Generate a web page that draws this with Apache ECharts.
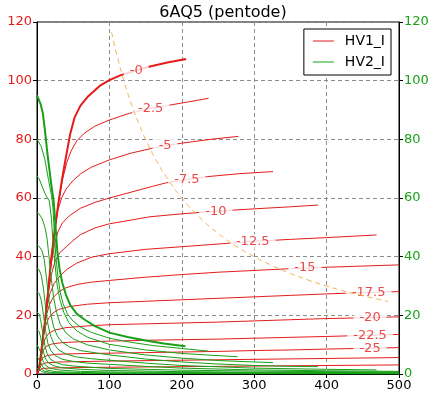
<!DOCTYPE html>
<html>
<head>
<meta charset="utf-8">
<script src="https://cdn.jsdelivr.net/npm/echarts@6.0.0/dist/echarts.min.js"></script>
<style>
  html, body { margin: 0; padding: 0; background: #fff; }
  #chart { width: 441px; height: 396px; }
</style>
</head>
<body>
<div id="chart"></div>
<script>
// plate current (HV1_I), [Va, mA], one array per grid voltage
const ia_0    = [[0,0],[3,2],[7,10],[12,20],[16,30],[20,40],[25,50],[30,59],[35,67],[40,74],[46,82],[52,87.5],[60,91.5],[70,94.5],[87,98.3],[100,100.2],[115,101.8],[137,103.5],[156,104.8],[180,106.2],[206,107.4]];
const ia_2_5  = [[0,0],[3,2],[7,10],[12,20],[16,30],[20,40],[25,50],[30,59],[35,66],[41,72],[47,76],[55,79.5],[65,82],[80,84.5],[100,86.6],[128,88.9],[157,90.5],[184,91.7],[210,92.8],[237,94]];
const ia_5    = [[0,0],[3,2],[7,10],[12,20],[16,30],[20,40],[25,50],[29,56],[34,60],[40,63],[50,66],[60,68.2],[75,70.5],[100,73],[130,75.3],[160,77],[177,77.8],[200,78.7],[240,80],[278,81]];
const ia_7_5  = [[0,0],[3,2],[7,10],[12,20],[16,30],[20,38],[24,44],[29,48.5],[35,51.5],[45,54],[60,56.5],[80,58.5],[100,60],[130,62],[160,64],[179,65.2],[207,66.3],[236,67.3],[280,68.3],[326,69]];
const ia_10   = [[0,0],[3,2],[7,10],[12,20],[16,28],[20,34],[25,38.5],[32,41.5],[41,43.5],[50,45.5],[60,47.5],[80,49.8],[100,51.2],[156,53.6],[200,54.6],[247,55.5],[300,56.3],[350,57],[388,57.6]];
const ia_12_5 = [[0,0],[3,2],[7,10],[11,18],[14,23],[18,27.5],[24,31],[32,33.5],[42,35.8],[55,37.8],[75,39.8],[100,41],[150,42.5],[200,43.4],[250,44.3],[298,45.2],[350,45.9],[400,46.5],[469,47.4]];
const ia_15   = [[0,0],[3,2],[7,10],[10,16],[13,20],[17,23.5],[22,26],[30,28],[40,29.4],[55,30.5],[75,31.3],[100,31.9],[150,33],[200,33.9],[250,34.7],[300,35.3],[350,35.9],[400,36.4],[450,36.8],[500,37.2]];
const ia_17_5 = [[0,0],[3,2],[6,7.5],[9,13],[12,16.5],[16,19],[22,20.8],[30,22],[45,23],[70,23.8],[100,24.3],[150,24.8],[200,25.3],[250,25.8],[300,26.3],[350,26.8],[400,27.3],[458,27.8],[500,28.1]];
const ia_20   = [[0,0],[3,2],[6,7],[9,10.5],[12,12.5],[17,14],[25,15],[40,15.8],[70,16.4],[100,16.8],[150,17.1],[200,17.4],[250,17.7],[300,18.1],[350,18.5],[400,18.9],[460,19.2],[500,19.5]];
const ia_22_5 = [[0,0],[3,2],[5,5],[8,7.8],[12,9.3],[20,10.2],[35,10.7],[60,11],[100,11.2],[150,11.5],[200,11.7],[250,11.9],[300,12.2],[350,12.5],[400,12.8],[460,13.2],[500,13.5]];
const ia_25   = [[0,0],[3,2],[5,4.2],[8,5.6],[14,6.3],[25,6.7],[50,6.9],[100,7.1],[150,7.3],[200,7.5],[250,7.7],[300,8],[350,8.2],[400,8.5],[460,8.8],[500,9]];
const ia_27_5 = [[0,0],[3,1.8],[6,3.2],[12,3.8],[30,4.1],[100,4.4],[200,4.7],[300,5],[400,5.3],[500,5.6]];
const ia_30   = [[0,0],[3,1.2],[8,1.9],[25,2.1],[100,2.3],[200,2.5],[300,2.7],[400,2.9],[500,3.1]];

// screen current (HV2_I)
const ig_0    = [[0,95],[2,94.5],[5,92],[8,89],[11,83],[14,76],[17,70],[20,64],[23,59],[26,49],[28,42],[31,36],[35,31],[40,27],[46,23.5],[55,20.5],[66,18.5],[80,16.3],[100,14.1],[125,12.6],[150,11.4],[175,10.4],[205,9.5]];
const ig_2_5  = [[0,80],[2,79.8],[6,77.5],[11,73],[16,66],[20,61],[22,57],[24,48],[26,40],[29,33],[32,28],[36,24],[42,20.5],[50,18],[60,16],[75,14.2],[100,12.2],[130,10.8],[160,9.7],[200,8.7],[237,7.8]];
const ig_5    = [[0,67.5],[3,66.5],[7,64],[12,61],[17,59],[20,53],[22,45],[25,37],[28,30],[32,25],[37,21],[44,17.5],[55,14.7],[70,12.5],[100,10.1],[150,8.2],[200,7],[240,6.4],[277,5.9]];
const ig_7_5  = [[0,55],[3,54.5],[7,53],[11,50],[14,46],[17,39],[20,32],[23,26],[27,21],[32,17],[40,14],[50,12],[70,9.9],[100,8.2],[150,6.5],[200,5.4],[250,4.6],[300,4.1],[326,3.9]];
const ig_10   = [[0,44],[3,43.5],[7,42],[10,39],[13,33],[16,26],[19,20.5],[23,16],[28,13],[35,10.8],[45,9.2],[60,8],[100,6.5],[150,5.1],[200,4.1],[250,3.4],[300,2.9],[350,2.6],[388,2.5]];
const ig_12_5 = [[0,36],[3,35.5],[6,33.5],[9,29],[12,22.5],[15,17],[19,12.8],[24,10],[30,8.2],[40,6.8],[55,5.8],[75,5.2],[100,4.7],[150,3.7],[200,2.9],[300,2],[400,1.6],[469,1.4]];
const ig_15   = [[0,28],[3,27.5],[6,25],[9,20],[12,14.5],[15,10.5],[19,8],[25,6.3],[35,5],[50,4.3],[70,3.7],[100,3.3],[150,2.6],[200,2],[300,1.4],[400,1.1],[500,0.9]];
const ig_17_5 = [[0,21],[3,20.5],[5,18.5],[8,14],[11,9.5],[14,7],[18,5.2],[25,4],[35,3.2],[50,2.7],[100,1.9],[200,1.3],[300,1],[400,0.8],[500,0.7]];
const ig_20   = [[0,15],[3,14.5],[5,12.5],[8,8.5],[11,5.6],[15,4],[22,2.9],[35,2.1],[60,1.6],[100,1.2],[200,0.8],[300,0.6],[500,0.45]];
const ig_22_5 = [[0,10],[2,9.8],[5,7.5],[8,4.6],[12,2.9],[18,2],[30,1.4],[60,0.9],[100,0.7],[300,0.4],[500,0.3]];
const ig_25   = [[0,6],[2,5.8],[5,4],[8,2.4],[13,1.4],[25,0.8],[60,0.5],[100,0.4],[500,0.2]];
const ig_27_5 = [[0,3.5],[3,3],[6,1.8],[10,1],[20,0.5],[60,0.25],[500,0.1]];
const ig_30   = [[0,2],[3,1.6],[6,0.9],[12,0.4],[40,0.15],[500,0.05]];

// 12W plate dissipation limit
const pdX = [103,110,120,130,140,150,165,180,200,225,250,275,300,325,350,375,400,425,450,485];
const pdY = [116.5,109.1,100,92.3,85.7,80,72.7,66.7,60,53.3,48,43.6,40,36.9,34.3,32,30,28.2,26.7,24.7];

// curve labels (grid volts) and where they sit along Va
const labelText = ['-0','-2.5','-5','-7.5','-10','-12.5','-15','-17.5','-20','-22.5','-25'];
const labelX    = [137, 157, 177, 207, 247, 298, 370, 458, 460, 460, 460];

const redCurves = [ia_0, ia_2_5, ia_5, ia_7_5, ia_10, ia_12_5, ia_15, ia_17_5, ia_20, ia_22_5, ia_25, ia_27_5, ia_30];
const greenCurves = [ig_0, ig_2_5, ig_5, ig_7_5, ig_10, ig_12_5, ig_15, ig_17_5, ig_20, ig_22_5, ig_25, ig_27_5, ig_30];

const RED = '#e41b1b';
const GREEN = '#17a017';
const FONT = 'DejaVu Sans';

// y on a curve at given x (only to put the label on the line)
function yAt(curve, x) {
  for (let i = 1; i < curve.length; i++) {
    if (curve[i][0] >= x) {
      const [x0, y0] = curve[i - 1], [x1, y1] = curve[i];
      return y0 + (y1 - y0) * (x - x0) / (x1 - x0);
    }
  }
  return curve[curve.length - 1][1];
}

const chart = echarts.init(document.getElementById('chart'));

const series = [];
redCurves.forEach((d, i) => {
  series.push({
    name: 'HV1_I', type: 'line', data: d, symbol: 'none', silent: true, z: 2,
    lineStyle: { color: RED, width: i === 0 ? 2 : 1 }, itemStyle: { color: RED }
  });
});
greenCurves.forEach((d, i) => {
  series.push({
    name: 'HV2_I', type: 'line', yAxisIndex: 1, data: d, symbol: 'none', silent: true, z: 2,
    lineStyle: { color: GREEN, width: i === 0 ? 2 : 1 }, itemStyle: { color: GREEN }
  });
});

// labels with white box, drawn bottom curve first so upper boxes sit on top
const labelData = labelText.map((t, i) => [labelX[i], yAt(redCurves[i], labelX[i]), t]).reverse();
series.push({
  name: 'labels', type: 'scatter', data: labelData, symbolSize: 0, silent: true, z: 3,
  label: {
    show: true, position: 'inside', formatter: p => p.value[2],
    color: RED, fontSize: 13, fontFamily: FONT, backgroundColor: '#fff', padding: [1, 6]
  }
});

series.push({
  name: 'pd', type: 'line', data: pdX.map((x, i) => [x, pdY[i]]), symbol: 'none', silent: true, z: 4,
  smooth: true, lineStyle: { color: '#f5b04f', width: 1, type: [5, 4] }
});

const axisY = (pos, color, split) => ({
  type: 'value', position: pos, min: 0, max: 120, interval: 20,
  axisLine: { show: true, lineStyle: { color: '#000' } },
  axisTick: { show: true, length: 4, lineStyle: { color: '#000' } },
  axisLabel: { color: color, fontSize: 13, fontFamily: FONT, margin: 5 },
  splitLine: { show: split, lineStyle: { color: '#8c8c8c', type: [4, 3] } }
});

chart.setOption({
  animation: false,
  backgroundColor: '#fff',
  title: {
    text: '6AQ5 (pentode)', left: 218, top: 0, textAlign: 'center',
    textStyle: { fontSize: 16, fontWeight: 'normal', color: '#000', fontFamily: FONT }
  },
  legend: {
    data: ['HV1_I', 'HV2_I'], orient: 'vertical', right: 50, top: 29,
    padding: [5, 6, 6, 9], icon: 'rect', itemWidth: 21, itemHeight: 1, itemGap: 7,
    borderColor: '#000', borderWidth: 1, backgroundColor: '#fff', borderRadius: 0,
    textStyle: { fontSize: 14, lineHeight: 14, fontFamily: FONT, color: '#000', padding: [0, 0, 0, 6] }
  },
  grid: { left: 37, right: 42, top: 22, bottom: 22, show: true, borderColor: '#000', borderWidth: 1 },
  xAxis: {
    type: 'value', min: 0, max: 500, interval: 100,
    axisLine: { lineStyle: { color: '#000' } },
    axisTick: { length: 4, lineStyle: { color: '#000' } },
    axisLabel: { color: '#000', fontSize: 13, fontFamily: FONT, margin: 5 },
    splitLine: { lineStyle: { color: '#8c8c8c', type: [4, 3] } }
  },
  yAxis: [axisY('left', RED, true), axisY('right', GREEN, false)],
  series: series
});
</script>
</body>
</html>
